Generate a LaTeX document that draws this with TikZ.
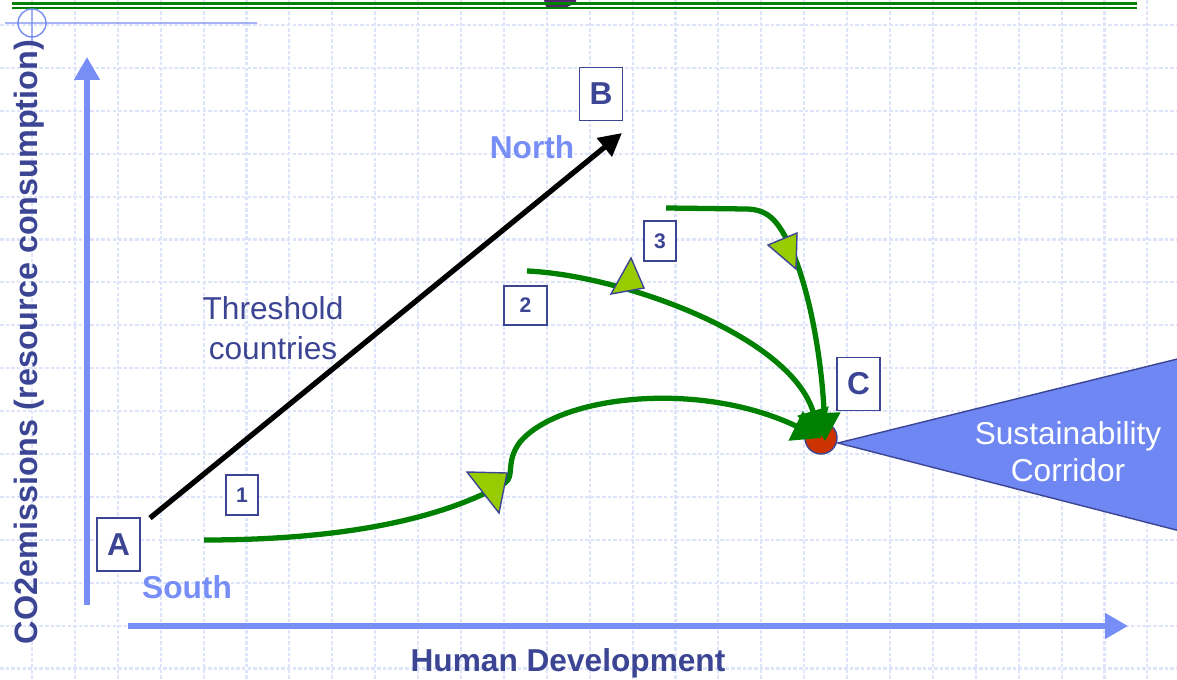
\documentclass[tikz,border=0pt]{standalone}
\usepackage{fontspec}
\setmainfont{Liberation Sans}
\usepackage{tikz}
\usetikzlibrary{arrows.meta,calc,positioning}
\definecolor{gridblue}{RGB}{222,229,251}
\definecolor{axisblue}{RGB}{118,142,245}
\definecolor{labeltext}{RGB}{60,69,148}
\definecolor{corridorfill}{RGB}{110,135,243}
\definecolor{reddot}{RGB}{204,51,0}
\definecolor{pathgreen}{RGB}{0,128,0}
\definecolor{pointergreen}{RGB}{153,204,0}
\definecolor{topplum}{RGB}{80,40,105}

\begin{document}
\begin{tikzpicture}[x=0.01cm,y=-0.01cm,
  box/.style={draw=labeltext,fill=white,line width=0.5pt,inner sep=0pt,text=labeltext,
    font=\fontsize{9}{11}\selectfont\bfseries,minimum width=0.43cm,minimum height=0.53cm},
  numbox/.style={box,font=\fontsize{6}{7}\selectfont\bfseries,minimum width=0.32cm,minimum height=0.40cm},
  greenpath/.style={draw=pathgreen,line width=1.5pt,-{Triangle[length=8pt,width=9pt]}},
  pointer/.style={fill=pointergreen,draw=labeltext,line width=0.4pt},
  axis/.style={draw=axisblue,line width=1.5pt,-{Triangle[length=6.5pt,width=7pt]}}]
\clip (0,0) rectangle (1177,680);
\fill[white] (0,0) rectangle (1177,680);
% grid
\foreach \i in {0,...,26}{\draw[gridblue,line width=0.6pt,dash pattern=on 1pt off 0.6pt] (32+42.9*\i,0) -- (32+42.9*\i,680);}
\foreach \i in {0,...,15}{\draw[gridblue,line width=0.6pt,dash pattern=on 1pt off 0.6pt] (0,25+42.9*\i) -- (1177,25+42.9*\i);}
% top rule and corner mark
\fill[topplum] (544,0) -- (576,0) -- (576,3) -- (567,7) -- (546,7) -- cycle;
\draw[pathgreen,line width=1pt] (12,3.5) -- (1137,3.5);
\draw[pathgreen,line width=0.6pt] (12,8) -- (1137,8);
\draw[axisblue,line width=0.4pt] (32,23) circle (14) (5,23) -- (257,23) (32,9) -- (32,45);
% axes
\coordinate (yb) at (87,605);
\coordinate (yt) at (87,57);
\coordinate (xl) at (128,626);
\coordinate (xr) at (1128,626);
\draw[axis] (yb) -- (yt);
\draw[axis] (xl) -- (xr);
\node[font=\fontsize{9.2}{11}\selectfont\bfseries,text=labeltext,rotate=90] (ylabel) at (29,342) {CO2emissions (resource consumption)};
\node[font=\fontsize{9}{11}\selectfont\bfseries,text=labeltext] (xlabel) at (568,663) {Human Development};
% corridor
\filldraw[fill=corridorfill,draw=labeltext,line width=0.4pt] (838,443) -- (1250,341) -- (1250,549) -- cycle;
\node[text=white,font=\fontsize{9}{10.5}\selectfont,align=center] (corridor) at (1068,452) {Sustainability\\Corridor};
% north-south line
\coordinate (pA) at (150,518);
\coordinate (pB) at (622,133);
\draw[line width=1.5pt,-{Triangle[length=6.5pt,width=6.5pt]}] (pA) -- (pB);
\node[font=\fontsize{9}{11}\selectfont\bfseries,text=axisblue] (north) at (532,147) {North};
\node[font=\fontsize{9}{11}\selectfont\bfseries,text=axisblue] (south) at (187,587) {South};
\node[font=\fontsize{9}{11.4}\selectfont,text=labeltext,align=center] (threshold) at (273,328) {Threshold\\countries};
% labels
\node[box] (boxA) at (118.5,544.5) {A};
\node[box] (boxB) at (601,94) {B};
\node[box] (boxC) at (858.5,384) {C};
\node[numbox] (box1) at (242,495) {1};
\node[numbox,minimum width=0.43cm,minimum height=0.39cm] (box2) at (525.5,305.5) {2};
\node[numbox] (box3) at (660,241) {3};
% target point and paths
\node[circle,fill=reddot,draw=labeltext,line width=0.4pt,minimum size=0.32cm,inner sep=0pt] (dotC) at (821,438) {};
\coordinate (s1) at (204,540);
\coordinate (s2) at (527,271);
\coordinate (s3) at (666,208);
\draw[greenpath] (s1) .. controls (340,540) and (440,520) .. (505,483)
  .. controls (515,476) and (505,462) .. (520,442)
  .. controls (560,395) and (700,380) .. (dotC.center);
\draw[greenpath] (s2) .. controls (620,275) and (790,335) .. (dotC.center);
\draw[greenpath] (s3) -- (745,209) .. controls (770,209) and (780,222) .. (795,258)
  .. controls (815,310) and (823,380) .. ($(dotC.center)+(4,3)$);
\draw[pointer] (467,472) -- (507,473) -- (499,513) -- cycle;
\draw[pointer] (631,258) -- (644,288) -- (611,294) -- cycle;
\draw[pointer] (768,245) -- (797,233) -- (796,269) -- cycle;
\end{tikzpicture}
\end{document}
